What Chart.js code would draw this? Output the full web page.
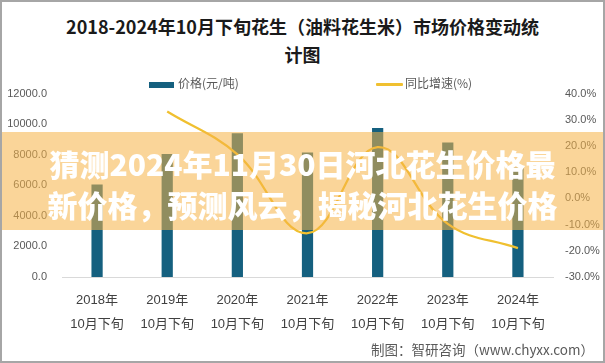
<!DOCTYPE html>
<html><head><meta charset="utf-8">
<script src="https://cdn.jsdelivr.net/npm/chart.js@4.4.0/dist/chart.umd.min.js"></script>
<style>
html,body{margin:0;padding:0;background:#fff;}
#page{position:relative;width:605px;height:363px;overflow:hidden;background:#fff;font-family:"Liberation Sans","Noto Sans CJK SC",sans-serif;}
#frame{position:absolute;left:0;top:0;width:605px;height:363px;box-sizing:border-box;border:2px solid #a6a6a6;pointer-events:none;}
#title{position:absolute;left:0;width:605px;top:12px;text-align:center;font-family:"Noto Sans CJK SC",sans-serif;font-weight:700;font-size:18px;line-height:28px;color:#1a1a1a;}
.leg{position:absolute;top:75px;font-family:"Noto Sans CJK SC",sans-serif;font-size:12px;color:#595959;line-height:16px;}
#chartbox{position:absolute;left:0;top:72px;width:605px;height:268px;}
#banner{position:absolute;left:0;top:132px;width:605px;height:98px;background:rgba(245,178,70,0.55);}
#btext{position:absolute;left:0;top:143px;width:605px;text-align:center;color:#fff;font-family:"Noto Sans CJK SC",sans-serif;font-weight:900;font-size:30px;line-height:41px;}
#src{position:absolute;right:11px;top:339px;font-family:"Noto Sans CJK SC",sans-serif;font-size:13.5px;color:#595959;}
</style></head>
<body>
<div id="page">
  <div id="title">2018-2024年10月下旬花生（油料花生米）市场价格变动统<br>计图</div>
  <div id="chartbox"><canvas id="c" width="605" height="268"></canvas></div>
  <div class="leg" style="left:149px;"><span style="display:inline-block;width:25px;height:6px;background:#15607F;vertical-align:middle;margin-right:4px;"></span>价格(元/吨)</div>
  <div class="leg" style="left:376px;"><span style="display:inline-block;width:27px;height:3px;background:#F0C030;vertical-align:middle;margin-right:2px;border-radius:1px;"></span>同比增速(%)</div>
  <div id="banner"></div>
  <div id="btext">猜测2024年11月30日河北花生价格最<br>新价格，预测风云，揭秘河北花生价格</div>
  <div id="src">制图：智研咨询（www.chyxx.com）</div>
  <div id="frame"></div>
</div>
<script>
const categories = [["2018年","10月下旬"],["2019年","10月下旬"],["2020年","10月下旬"],["2021年","10月下旬"],["2022年","10月下旬"],["2023年","10月下旬"],["2024年","10月下旬"]];
const priceValues = [6050, 8050, 9400, 8150, 9750, 8800, 7150];
const yoyValues = [null, 33.2, 16.8, -13.3, 19.6, -9.7, -19.0];

new Chart(document.getElementById('c'), {
  data: {
    labels: categories,
    datasets: [
      {type:'line', label:'同比增速(%)', data: yoyValues, yAxisID:'y1', borderColor:'#F0C030', borderWidth:2.25, pointRadius:0, tension:0.4, spanGaps:true, order:0},
      {type:'bar', label:'价格(元/吨)', data: priceValues, yAxisID:'y', backgroundColor:'#15607F', categoryPercentage:1, barPercentage:0.16, order:1}
    ]
  },
  options: {
    responsive:false, animation:false,
    layout:{padding:{top:5,left:0,right:0,bottom:0}},
    plugins:{legend:{display:false}, tooltip:{enabled:false}},
    scales:{
      x:{offset:true, grid:{display:false, drawTicks:false}, border:{display:true,color:'#d9d9d9',width:1},
         ticks:{color:'#404040', padding:12, font:{family:'"Liberation Sans","Noto Sans CJK SC"', size:13, lineHeight:1.8}, maxRotation:0, autoSkip:false},
         afterFit:(s)=>{s.height=63;}},
      y:{position:'left', min:0, max:12000, grid:{display:false, drawTicks:false}, border:{display:false},
         ticks:{stepSize:2000, padding:15, color:'#595959', font:{family:'"Liberation Sans"', size:11}, callback:(v)=>v.toFixed(1)},
         afterFit:(s)=>{s.width=62;}},
      y1:{position:'right', min:-30, max:40, grid:{display:false, drawTicks:false}, border:{display:false},
         ticks:{stepSize:10, padding:12, color:'#595959', font:{family:'"Liberation Sans"', size:11}, callback:(v)=>v.toFixed(1)+'%'},
         afterFit:(s)=>{s.width=52;}}
    }
  }
});
</script>
</body></html>
